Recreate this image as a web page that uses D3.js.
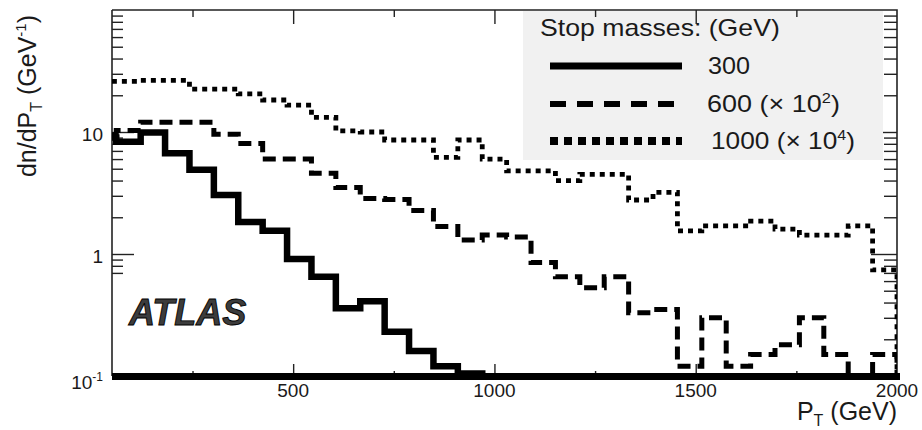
<!DOCTYPE html>
<html>
<head>
<meta charset="utf-8">
<script src="https://cdn.jsdelivr.net/npm/d3@7"></script>
<style>
  body { margin: 0; background: #fff; }
  svg { display: block; }
  text { font-family: "Liberation Sans", Arial, Helvetica, sans-serif; fill: #1a1a1a; }
</style>
</head>
<body>
<svg id="chart" width="922" height="430"></svg>
<script>
// Histogram binning: 33 equal bins from 0 to 2000 GeV
const binCount = 33;
const ptMax = 2000;
const ptRange = [50, 2000];
const rateRange = [0.1, 100];

// dn/dPT per bin, stop mass 300 GeV (bins beyond the last entry fall below 0.1)
const mass300 = [9.0, 8.3, 9.9, 6.7, 4.9, 3.05, 1.83, 1.55, 0.91, 0.65, 0.36, 0.41, 0.23, 0.16, 0.12, 0.105];

// stop mass 600 GeV, scaled by 10^2
const mass600 = [9.5, 10.3, 12.0, 12.0, 12.0, 9.6, 8.05, 6.0, 6.0, 4.6, 3.5, 2.85, 2.8, 2.27, 1.68, 1.30, 1.43,
                 1.38, 0.85, 0.65, 0.53, 0.65, 0.33, 0.35, 0.12, 0.30, 0.12, 0.15, 0.18, 0.30, 0.15, 0.08, 0.15];

// stop mass 1000 GeV, scaled by 10^4
const mass1000 = [26, 26, 26.5, 26.5, 22.5, 22.5, 20.5, 18.3, 16.6, 13.2, 10.2, 10.0, 8.6, 8.6, 6.2, 8.6, 6.0,
                  4.8, 4.8, 4.0, 4.5, 4.5, 2.77, 3.2, 1.55, 1.70, 1.70, 1.86, 1.6, 1.43, 1.43, 1.70, 0.74];

const seriesLabels = ["300", "600 (\u00d7 10", "1000 (\u00d7 10"];
const seriesLabelExponents = ["", "2", "4"];
const legendTitle = "Stop masses: (GeV)";

const xMajorTicks = [500, 1000, 1500, 2000];
const xMinorTicks = [250, 750, 1250, 1750];
const xTickLabels = ["500", "1000", "1500", "2000"];
const yLabelTicks = [0.1, 1, 10];
const yTickBases = ["10", "1", "10"];
const yTickExponents = ["-1", "", ""];

// ---------- layout ----------
const plot = { left: 112, right: 897, top: 10, bottom: 376 };
const svg = d3.select("#chart");

const x = d3.scaleLinear().domain(ptRange).range([plot.left, plot.right]);
const y = d3.scaleLog().domain(rateRange).range([plot.bottom, plot.top]).clamp(true);

const binEdges = d3.range(binCount + 1).map(k => k * ptMax / binCount);

// log-axis minor positions
const decadeMinors = (lo) => d3.range(2, 10).map(m => +(m * lo).toPrecision(3));
const fullMinors = [...decadeMinors(0.1), ...decadeMinors(1), ...decadeMinors(10)];
const leftMinors = [0.7, 0.8, 0.9, ...decadeMinors(1), ...decadeMinors(10)];

function styleAxis(g) {
  g.select(".domain").remove();
  g.selectAll(".tick text").remove();
  g.selectAll(".tick line").attr("stroke", "#222").attr("stroke-width", 1.4);
}

// right-hand axis ticks (drawn before legend box, which sits over them)
svg.append("g").attr("transform", `translate(${plot.right},0)`)
  .call(d3.axisLeft(y).tickValues(fullMinors).tickSize(13).tickSizeOuter(0)).call(styleAxis);
svg.append("g").attr("transform", `translate(${plot.right},0)`)
  .call(d3.axisLeft(y).tickValues([1, 10]).tickSize(26).tickSizeOuter(0)).call(styleAxis);

// legend panel
const legend = svg.append("g");
legend.append("rect").attr("x", 523).attr("y", plot.top + 1).attr("width", 360).attr("height", 149)
  .attr("fill", "#f1f1f1");

// frame: top and right edges
svg.append("path")
  .attr("d", `M${plot.left},${plot.top}H${plot.right}V${plot.bottom}`)
  .attr("fill", "none").attr("stroke", "#222").attr("stroke-width", 1.6);

// top axis ticks
svg.append("g").attr("transform", `translate(0,${plot.top})`)
  .call(d3.axisBottom(x).tickValues(xMinorTicks).tickSize(7).tickSizeOuter(0)).call(styleAxis);
svg.append("g").attr("transform", `translate(0,${plot.top})`)
  .call(d3.axisBottom(x).tickValues(xMajorTicks.slice(0, 3)).tickSize(14).tickSizeOuter(0)).call(styleAxis);

// left axis
svg.append("line").attr("x1", plot.left).attr("x2", plot.left).attr("y1", plot.top).attr("y2", plot.bottom)
  .attr("stroke", "#222").attr("stroke-width", 1.6);
svg.append("g").attr("transform", `translate(${plot.left},0)`)
  .call(d3.axisRight(y).tickValues(leftMinors).tickSize(11).tickSizeOuter(0)).call(styleAxis);
svg.append("g").attr("transform", `translate(${plot.left},0)`)
  .call(d3.axisRight(y).tickValues([1, 10]).tickSize(22).tickSizeOuter(0)).call(styleAxis);

// histograms
svg.append("clipPath").attr("id", "plot-clip").append("rect")
  .attr("x", plot.left).attr("y", plot.top).attr("width", plot.right - plot.left).attr("height", plot.bottom - plot.top + 2);

function stepPoints(values) {
  const pts = [];
  values.forEach((v, i) => { pts.push([binEdges[i], v], [binEdges[i + 1], v]); });
  pts.push([binEdges[values.length], rateRange[0]]);
  return pts;
}
const stepLine = d3.line().x(d => x(d[0])).y(d => y(d[1]));

const seriesStyles = [
  { width: 6.5, dash: null },
  { width: 5, dash: "13,7" },
  { width: 4.8, dash: "5,5" }
];
const seriesValues = [mass300, mass600, mass1000];

const hist = svg.append("g").attr("clip-path", "url(#plot-clip)");
seriesValues.forEach((vals, i) => {
  hist.append("path")
    .attr("d", stepLine(stepPoints(vals)))
    .attr("fill", "none")
    .attr("stroke", "#000")
    .attr("stroke-width", seriesStyles[i].width)
    .attr("stroke-dasharray", seriesStyles[i].dash)
    .attr("stroke-linejoin", "miter")
    .attr("stroke-linecap", "butt");
});

// bottom axis: heavy baseline with upward ticks
svg.append("line").attr("x1", plot.left).attr("x2", plot.right + 3)
  .attr("y1", plot.bottom + 0.5).attr("y2", plot.bottom + 0.5)
  .attr("stroke", "#000").attr("stroke-width", 7);
svg.append("g").attr("transform", `translate(0,${plot.bottom - 3})`)
  .call(d3.axisTop(x).tickValues(xMajorTicks.slice(0, 3)).tickSize(9).tickSizeOuter(0)).call(styleAxis);
svg.append("g").attr("transform", `translate(0,${plot.bottom - 3})`)
  .call(d3.axisTop(x).tickValues(xMinorTicks).tickSize(2).tickSizeOuter(0)).call(styleAxis);

// x tick labels
svg.append("g").selectAll("text").data(xMajorTicks).join("text")
  .attr("x", d => x(d)).attr("y", 397)
  .attr("text-anchor", "middle").attr("font-size", 19)
  .text((d, i) => xTickLabels[i]);

// y tick labels
const yLab = svg.append("g").selectAll("text").data(yLabelTicks).join("text")
  .attr("x", 103).attr("y", (d, i) => y(d) + (i === 0 ? 13 : 9))
  .attr("text-anchor", "end").attr("font-size", 19);
yLab.append("tspan").text((d, i) => yTickBases[i]);
yLab.append("tspan").attr("font-size", 12).attr("dy", -8).text((d, i) => yTickExponents[i]);

// axis titles
const yTitle = svg.append("text")
  .attr("transform", "translate(36,96) rotate(-90)")
  .attr("text-anchor", "middle").attr("font-size", 25);
yTitle.append("tspan").text("dn/dP");
yTitle.append("tspan").attr("font-size", 16).attr("dy", 6).text("T");
yTitle.append("tspan").attr("dy", -6).text(" (GeV");
yTitle.append("tspan").attr("font-size", 15).attr("dy", -10).text("-1");
yTitle.append("tspan").attr("dy", 10).text(")");

const xTitle = svg.append("text")
  .attr("x", 897).attr("y", 420).attr("text-anchor", "end").attr("font-size", 25);
xTitle.append("tspan").text("P");
xTitle.append("tspan").attr("font-size", 16).attr("dy", 6).text("T");
xTitle.append("tspan").attr("dy", -6).text(" (GeV)");

// experiment tag
svg.append("text").attr("x", 129).attr("y", 325)
  .attr("font-size", 36).attr("font-weight", "bold").attr("font-style", "italic")
  .style("fill", "#3c3c3c").attr("stroke", "#000").attr("stroke-width", 0.9)
  .text("ATLAS");

// legend contents
function fitWidth(textSel, px, py, width) {
  textSel.attr("x", 0).attr("y", 0);
  const w = textSel.node().getBBox().width;
  textSel.attr("transform", `translate(${px},${py}) scale(${width / w},1)`);
}

fitWidth(legend.append("text").attr("font-size", 23).text(legendTitle), 540, 36, 240);

const legendRows = [66, 104, 141];
const legendStyles = [
  { width: 7, dash: null },
  { width: 6, dash: "16,11" },
  { width: 8, dash: "8,6" }
];
const labelX = [708, 707, 711];
const labelW = [42, 133, 144];
legendRows.forEach((ly, i) => {
  legend.append("line").attr("x1", 550).attr("x2", 682).attr("y1", ly).attr("y2", ly)
    .attr("stroke", "#000").attr("stroke-width", legendStyles[i].width)
    .attr("stroke-dasharray", legendStyles[i].dash);
  const t = legend.append("text").attr("font-size", 23);
  t.append("tspan").text(seriesLabels[i]);
  if (seriesLabelExponents[i]) {
    t.append("tspan").attr("font-size", 14).attr("dy", -9).text(seriesLabelExponents[i]);
    t.append("tspan").attr("dy", 9).text(")");
  }
  fitWidth(t, labelX[i], ly + 8, labelW[i]);
});
</script>
</body>
</html>
